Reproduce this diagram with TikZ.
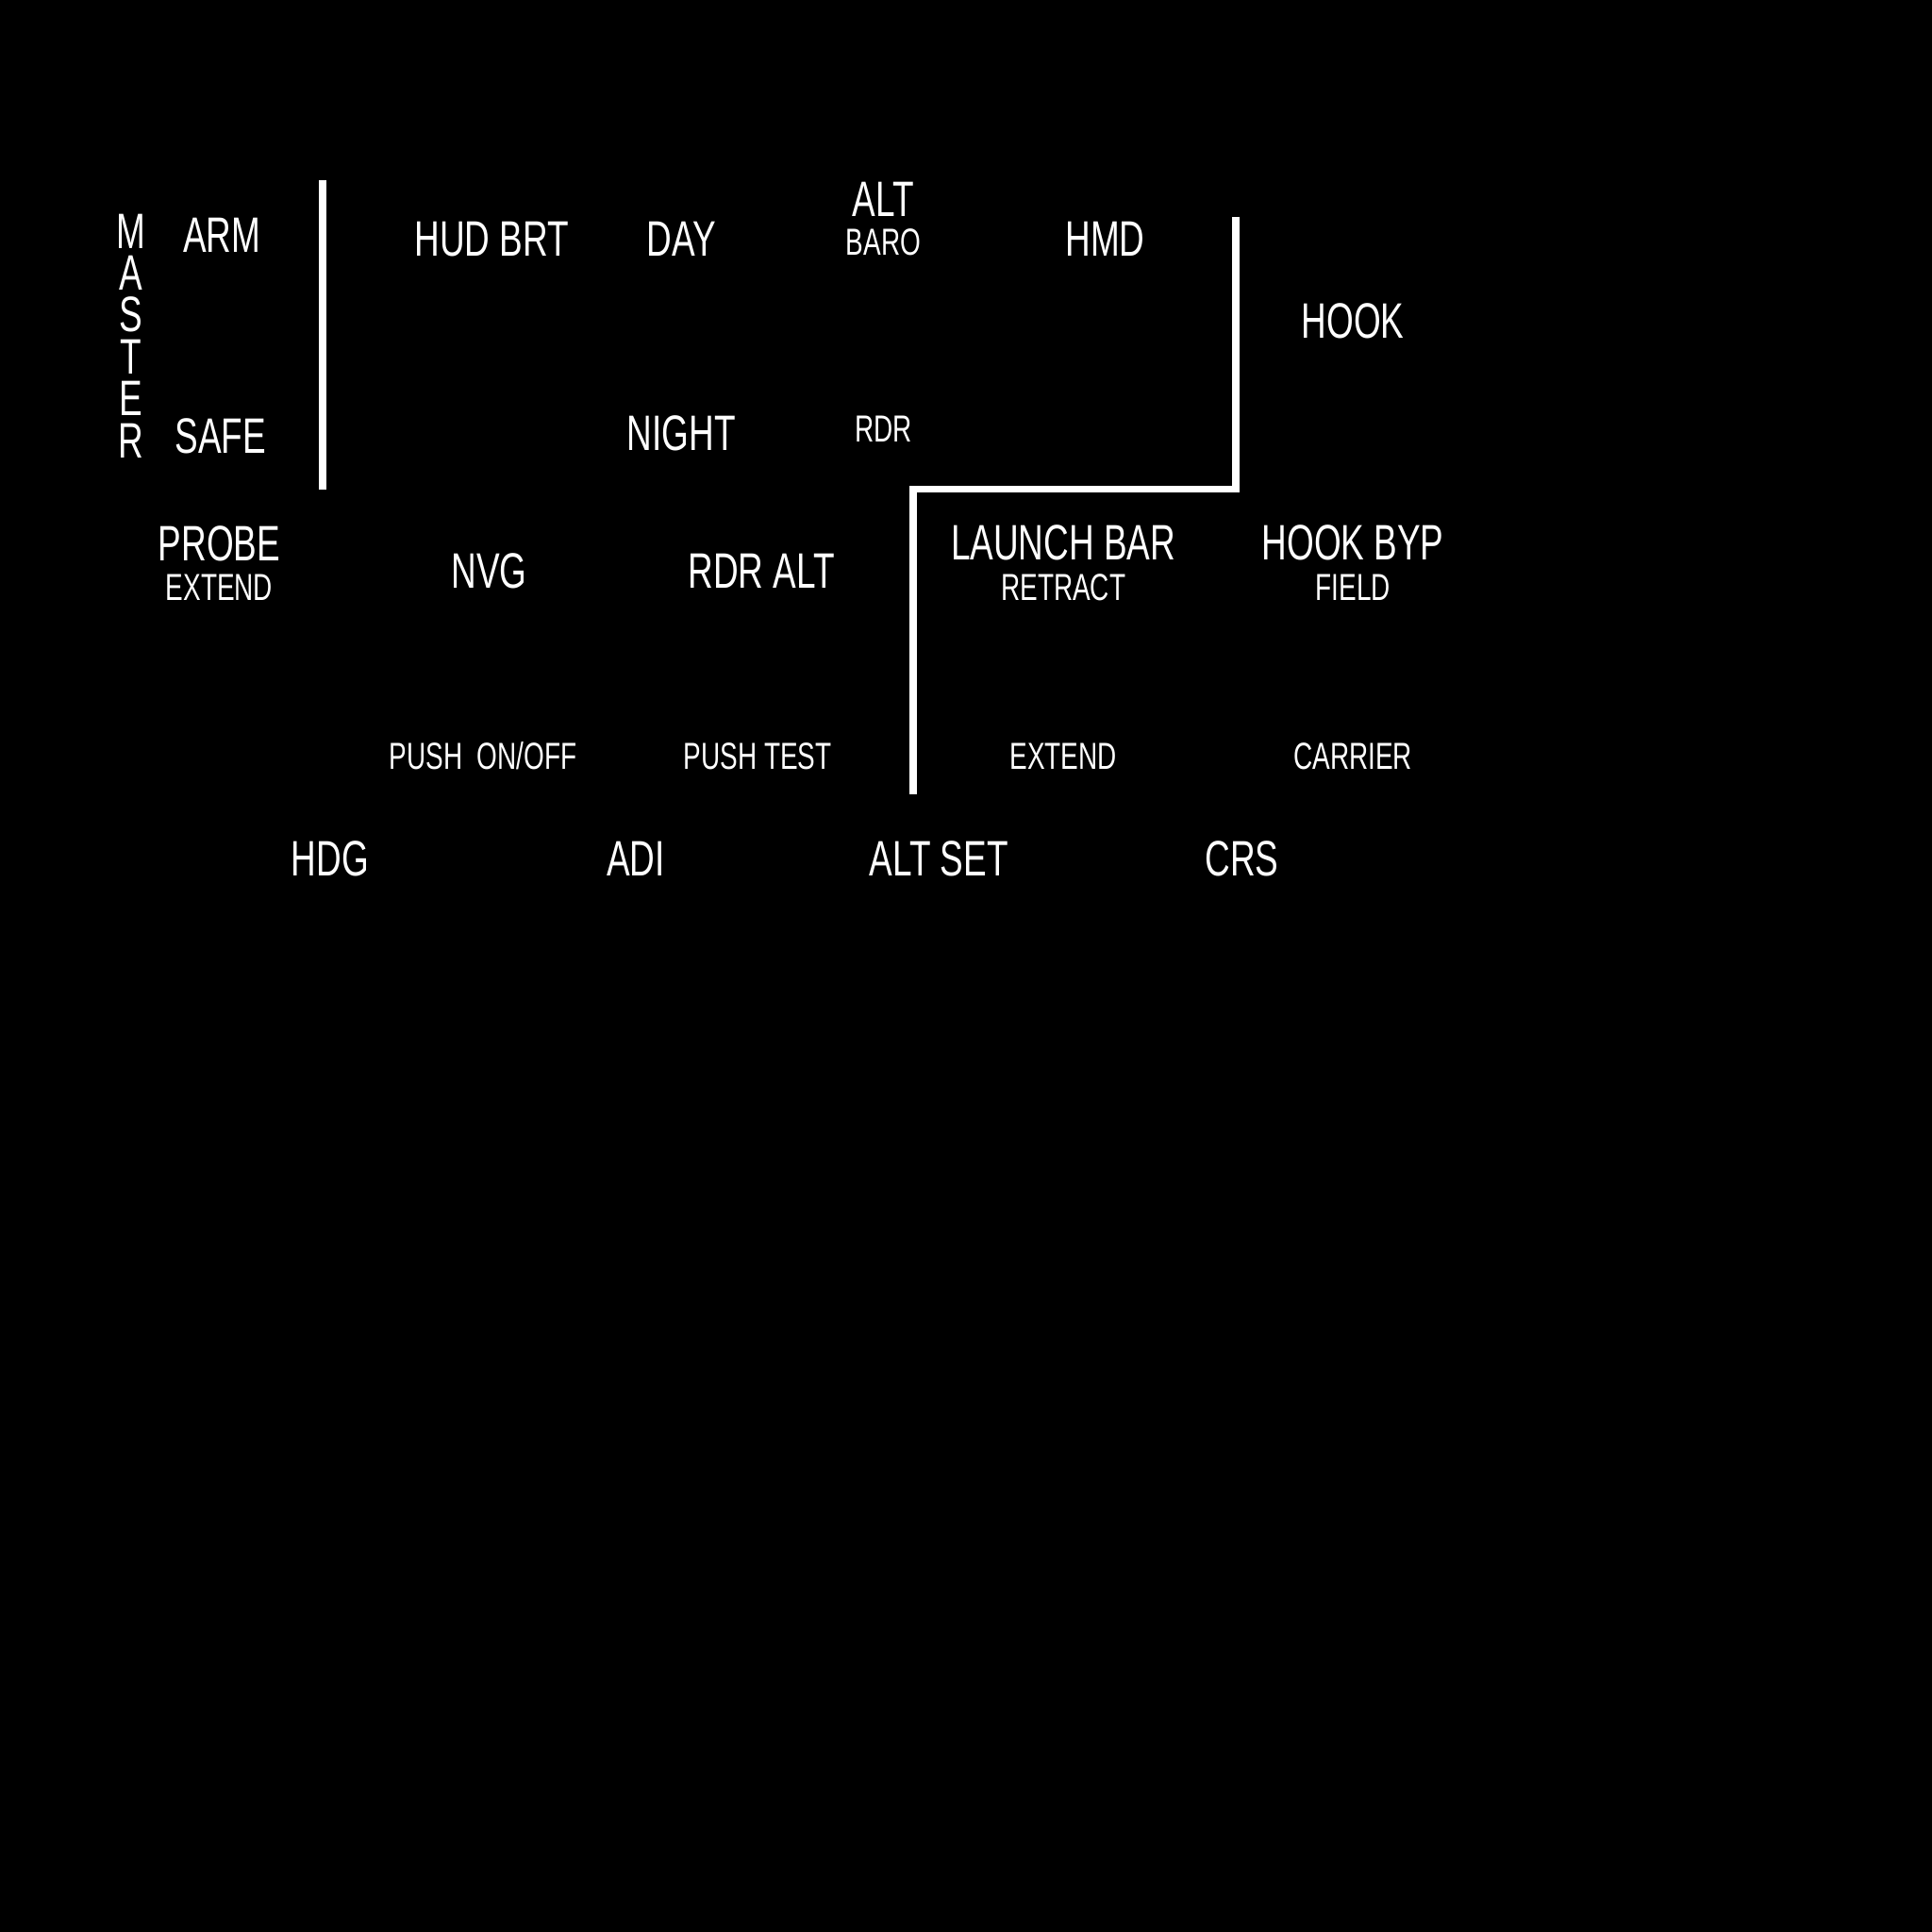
\documentclass[tikz,border=0pt]{standalone}
\usepackage{fontspec}
\setmainfont[FakeStretch=0.7]{Liberation Sans}
\colorlet{PanelBackground}{black}
\colorlet{PanelLegend}{white}
\tikzset{
  legend big/.style={text=PanelLegend, font=\fontsize{11.5}{13}\selectfont, inner sep=0pt, anchor=base},
  legend small/.style={text=PanelLegend, font=\fontsize{8.7}{10}\selectfont, inner sep=0pt, anchor=base},
  divider/.style={draw=PanelLegend, line width=1.7pt, line join=miter}
}

\begin{document}
\begin{tikzpicture}[x=0.1mm, y=-0.1mm]

% Fondo del panel
\fill[PanelBackground] (0, 0) rectangle (1568, 1568);
\useasboundingbox (0, 0) rectangle (1568, 1568);

% Interruptor MASTER (letras en vertical)
\node[legend big, anchor=north, align=center, font=\fontsize{11.5}{9.67}\selectfont]
  (master) at (106, 173) {M\\A\\S\\T\\E\\R};
\node[legend big] (arm) at (180, 204.5) {ARM};
\node[legend big] (safe) at (179, 367.5) {SAFE};

% Fila superior
\node[legend big] (hudbrt) at (399, 207.5) {HUD BRT};
\node[legend big] (day) at (553, 207.5) {DAY};
\node[legend big] (night) at (553, 365.5) {NIGHT};
\node[legend big] (alt) at (717, 175.5) {ALT};
\node[legend small] (baro) at (717, 207) {BARO};
\node[legend small] (rdr) at (717, 359) {RDR};
\node[legend big] (hmd) at (897, 207.5) {HMD};
\node[legend big] (hook) at (1098, 274.5) {HOOK};

% Fila central
\node[legend big] (probe) at (178, 455.5) {PROBE};
\node[legend small] (probeext) at (178, 487) {EXTEND};
\node[legend big] (nvg) at (397, 477.5) {NVG};
\node[legend big] (rdralt) at (618, 477.5) {RDR ALT};
\node[legend big] (launchbar) at (863, 454.5) {LAUNCH BAR};
\node[legend small] (retract) at (863, 487) {RETRACT};
\node[legend big] (hookbyp) at (1098, 454.5) {HOOK BYP};
\node[legend small] (field) at (1098, 487) {FIELD};

\node[legend small] (nvgpush) at (392, 624) {PUSH\ \ ON/OFF};
\node[legend small] (rdrpush) at (615, 624) {PUSH TEST};
\node[legend small] (lbextend) at (863, 624) {EXTEND};
\node[legend small] (carrier) at (1098, 624) {CARRIER};

% Fila inferior de mandos
\node[legend big] (hdg) at (268, 710.5) {HDG};
\node[legend big] (adi) at (516, 710.5) {ADI};
\node[legend big] (altset) at (762, 710.5) {ALT SET};
\node[legend big] (crs) at (1008, 710.5) {CRS};

% Lineas divisorias
\coordinate (divA-top) at (262, 146);
\coordinate (divA-bot) at (262, 397);
\coordinate (divB-top) at (1003, 176);
\coordinate (divB-knee) at (1003, 397);
\coordinate (divB-elbow) at (741, 397);
\coordinate (divB-bot) at (741, 645);

\draw[divider] (divA-top) -- (divA-bot);
\draw[divider] (divB-top) -- (divB-knee) -- (divB-elbow) -- (divB-bot);

\end{tikzpicture}
\end{document}
